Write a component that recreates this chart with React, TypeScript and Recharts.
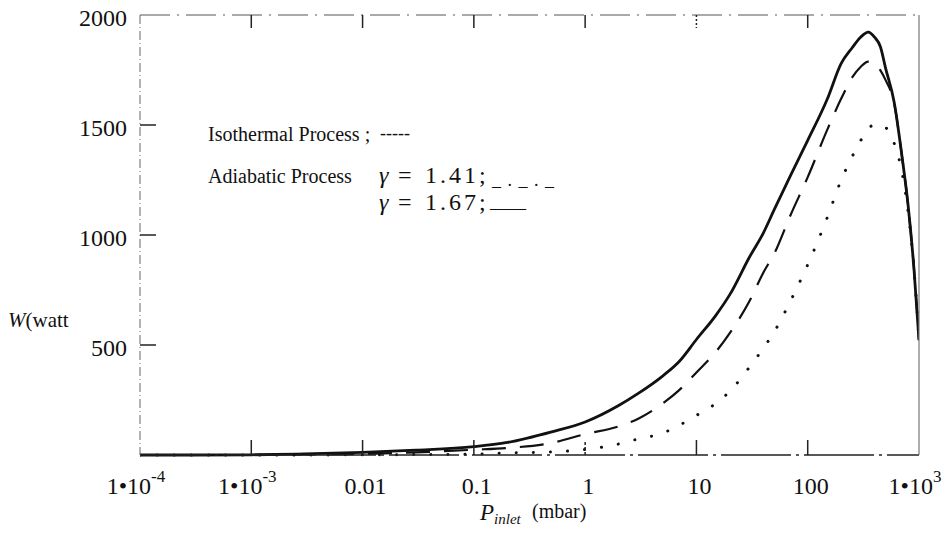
import { LineChart, Line, XAxis, YAxis } from 'recharts'

// inlet pressure (mbar), log-spaced samples
const P_INLET = [
  0.0001, 0.0003, 0.001, 0.003, 0.01, 0.03, 0.1, 0.2, 0.5, 1, 2, 3, 5, 7, 10, 15, 20, 30, 40, 50,
  70, 100, 150, 200, 250, 300, 350, 400, 450, 500, 600, 700, 800, 900, 1000,
]
// adiabatic, gamma = 1.67 (solid)
const W_GAMMA_167 = [
  0, 0, 1, 5, 12, 22, 38, 57, 105, 150, 225, 280, 360, 425, 525, 636, 730, 900, 1010, 1115,
  1270, 1430, 1618, 1780, 1850, 1900, 1922, 1898, 1856, 1760, 1600, 1365, 1130, 850, 522,
]
// adiabatic, gamma = 1.41 (dashed)
const W_GAMMA_141 = [
  0, 0, 0, 2, 5, 12, 24, 32, 55, 95, 130, 165, 235, 295, 375, 470, 555, 700, 830, 915,
  1090, 1263, 1479, 1620, 1715, 1765, 1788, 1780, 1748, 1705, 1595, 1365, 1130, 850, 522,
]
// isothermal (dotted)
const W_ISOTHERMAL = [
  0, 0, 0, 0, 1, 2, 4, 9, 14, 25, 50, 73, 100, 135, 180, 235, 290, 400, 486, 560,
  700, 865, 1080, 1250, 1355, 1430, 1485, 1500, 1502, 1490, 1415, 1290, 1100, 850, 522,
]

const X_TICKS = [0.0001, 0.001, 0.01, 0.1, 1, 10, 100, 1000]
const X_TICK_BASE = ['1•10', '1•10', '0.01', '0.1', '1', '10', '100', '1•10']
const X_TICK_EXP = ['-4', '-3', '', '', '', '', '', '3']
const Y_TICKS = [0, 500, 1000, 1500, 2000]

const data = P_INLET.map((p, i) => ({
  p,
  g167: W_GAMMA_167[i],
  g141: W_GAMMA_141[i],
  iso: W_ISOTHERMAL[i],
}))

const SERIF = '"Liberation Serif", "Times New Roman", serif'
const INK = '#111'

function BottomTick({ x, y, index }: any) {
  const exp = X_TICK_EXP[index]
  const inner = index > 0 && index < X_TICKS.length - 1
  return (
    <g>
      {inner && <line x1={x} y1={y} x2={x} y2={y - 15} stroke="#222" strokeWidth={1.5} strokeDasharray={index === 4 ? '3 2' : undefined} />}
      <text x={exp ? x - 4 : x + 3} y={y + 39} textAnchor="middle" fontFamily={SERIF} fontSize={24} fill={INK}>
        {X_TICK_BASE[index]}
        {exp && <tspan dy={-12} fontSize={17}>{exp}</tspan>}
      </text>
    </g>
  )
}

function TopTick({ x, y, index }: any) {
  if (index === 0 || index === X_TICKS.length - 1) return null
  return <line x1={x} y1={y} x2={x} y2={y + 13} stroke="#222" strokeWidth={1.5} strokeDasharray={index === 5 ? '2 2' : undefined} />
}

function LeftTick({ x, y, payload }: any) {
  const v = payload.value
  return (
    <g>
      {v > 0 && v < 2000 && <line x1={x} y1={y} x2={x + 16} y2={y} stroke="#222" strokeWidth={1.5} />}
      {v > 0 && (
        <text x={x - 13} y={y + 11} textAnchor="end" fontFamily={SERIF} fontSize={24} fill={INK}>
          {v}
        </text>
      )}
    </g>
  )
}

function RightTick({ x, y, payload }: any) {
  const v = payload.value
  if (v <= 0 || v >= 2000) return null
  return <line x1={x} y1={y} x2={x - 16} y2={y} stroke="#222" strokeWidth={1.5} />
}

export default function App() {
  return (
    <div style={{ position: 'absolute', left: 0, top: 0, width: 947, height: 537, background: '#fff' }}>
      <LineChart width={947} height={537} data={data} margin={{ top: 0, right: 0, bottom: 0, left: 0 }}>
        <XAxis
          dataKey="p"
          type="number"
          scale="log"
          domain={[0.0001, 1000]}
          ticks={X_TICKS}
          interval={0}
          height={82}
          tickSize={0}
          tickMargin={0}
          tickLine={false}
          axisLine={{ stroke: '#222', strokeWidth: 1.3, strokeDasharray: '70 5 3 5' }}
          tick={(props: any) => <BottomTick {...props} />}
          allowDataOverflow
        />
        <XAxis
          xAxisId="top"
          orientation="top"
          dataKey="p"
          type="number"
          scale="log"
          domain={[0.0001, 1000]}
          ticks={X_TICKS}
          interval={0}
          height={15}
          tickSize={0}
          tickMargin={0}
          tickLine={false}
          axisLine={{ stroke: '#555', strokeWidth: 1, strokeDasharray: '30 7 2 7' }}
          tick={(props: any) => <TopTick {...props} />}
          allowDataOverflow
        />
        <YAxis
          type="number"
          domain={[0, 2000]}
          ticks={Y_TICKS}
          interval={0}
          width={140}
          tickSize={0}
          tickMargin={0}
          tickLine={false}
          axisLine={{ stroke: '#666', strokeWidth: 1, strokeDasharray: '9 3 1 3' }}
          tick={(props: any) => <LeftTick {...props} />}
        />
        <YAxis
          yAxisId="right"
          orientation="right"
          type="number"
          domain={[0, 2000]}
          ticks={Y_TICKS}
          interval={0}
          width={28}
          tickSize={0}
          tickMargin={0}
          tickLine={false}
          axisLine={{ stroke: '#777', strokeWidth: 1.2 }}
          tick={(props: any) => <RightTick {...props} />}
        />
        <Line dataKey="iso" type="monotone" stroke={INK} strokeWidth={3} strokeDasharray="0.1 17" strokeLinecap="round" dot={false} isAnimationActive={false} />
        <Line dataKey="g141" type="monotone" stroke={INK} strokeWidth={2.2} strokeDasharray="24 14" dot={false} isAnimationActive={false} />
        <Line dataKey="g167" type="monotone" stroke={INK} strokeWidth={2.8} dot={false} isAnimationActive={false} />
      </LineChart>

      <svg width={947} height={537} style={{ position: 'absolute', left: 0, top: 0, pointerEvents: 'none' }}>
        <g fontFamily={SERIF} fill={INK}>
          <text x={208} y={141} fontSize={20}>Isothermal Process ;</text>
          <text x={380} y={139} fontSize={18}>-----</text>
          <text x={208} y={183} fontSize={20}>Adiabatic Process</text>

          <text x={379} y={183} fontSize={24} fontStyle="italic">γ</text>
          <text x={398} y={183} fontSize={24}>=</text>
          <text x={425} y={183} fontSize={24} letterSpacing={3}>1.41;</text>
          <text x={492} y={186} fontSize={18} letterSpacing={1}>_ . _ . _</text>

          <text x={379} y={210} fontSize={24} fontStyle="italic">γ</text>
          <text x={398} y={210} fontSize={24}>=</text>
          <text x={425} y={210} fontSize={24} letterSpacing={3}>1.67;</text>
          <text x={490} y={208} fontSize={18}>____</text>

          <text x={8} y={327} fontSize={21}>
            <tspan fontStyle="italic">W</tspan>(watt
          </text>

          <text x={480} y={520} fontSize={23} fontStyle="italic">
            P<tspan dy={4} fontSize={15}>inlet</tspan>
          </text>
          <text x={532} y={518} fontSize={20}>(mbar)</text>
        </g>
      </svg>
    </div>
  )
}
